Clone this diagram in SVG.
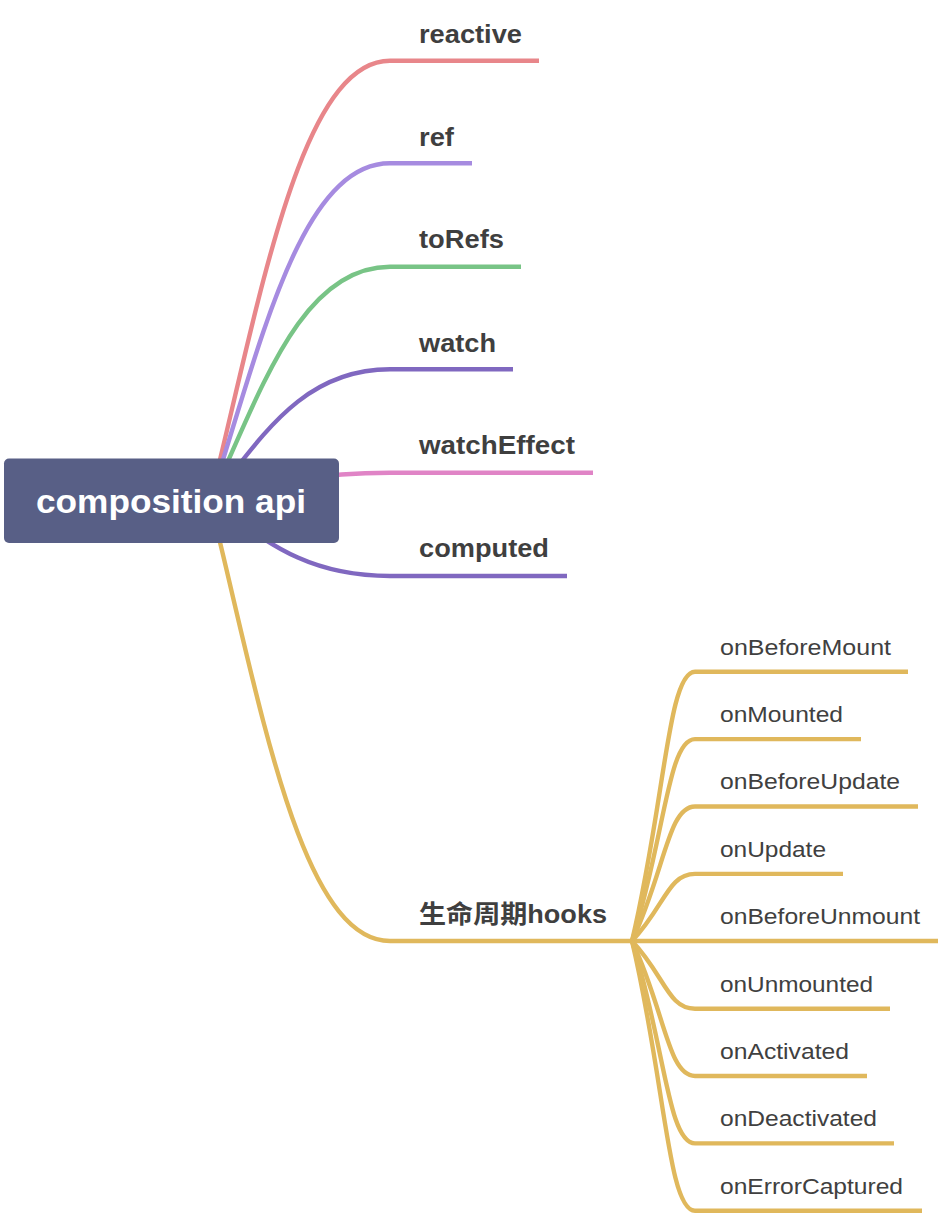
<svg xmlns="http://www.w3.org/2000/svg" width="942" height="1216" viewBox="0 0 942 1216">
<style>
.c{fill:none;stroke-width:4.4;stroke-linecap:butt;stroke-linejoin:round}
.red{stroke:#e8868a}
.lav{stroke:#a68be0}
.grn{stroke:#78c486}
.pur{stroke:#8068c0}
.pnk{stroke:#e084c6}
.gold{stroke:#e0b85c}
.t1{font-family:"Liberation Sans","Noto Sans CJK SC",sans-serif;font-weight:bold;font-size:25px;fill:#3f3f3f}
.t2{font-family:"Liberation Sans","Noto Sans CJK SC",sans-serif;font-size:22px;fill:#404040}
.root{font-family:"Liberation Sans",sans-serif;font-weight:bold;font-size:33px;fill:#ffffff}
</style>
<rect width="942" height="1216" fill="#ffffff"/>
<g id="connectors">
<path class="c red" d="M210 501 C260 300 300 60.7 390 60.7 H539"/>
<path class="c lav" d="M210 501 C260 346.7 300 163.3 390 163.3 H472"/>
<path class="c grn" d="M210 501 C260 393.9 300 266.7 390 266.7 H521"/>
<path class="c pur" d="M210 501 C260 440.8 300 369.3 390 369.3 H513"/>
<path class="c pnk" d="M210 501 C260 488.1 300 472.7 390 472.7 H593"/>
<path class="c pur" d="M210 501 C260 535.3 300 576 390 576 H567"/>
<path class="c gold" d="M210 501 C260 702 300 941 390 941 H632"/>
<path class="c gold" d="M632 941 C665 801 668 671.7 695 671.7 H908"/>
<path class="c gold" d="M632 941 C665 836 668 739.1 695 739.1 H861"/>
<path class="c gold" d="M632 941 C665 871 668 806.5 695 806.5 H918"/>
<path class="c gold" d="M632 941 C665 906.1 668 873.9 695 873.9 H843"/>
<path class="c gold" d="M632 941 H938"/>
<path class="c gold" d="M632 941 C665 976 668 1008.7 695 1008.7 H890"/>
<path class="c gold" d="M632 941 C665 1011.2 668 1076 695 1076 H867"/>
<path class="c gold" d="M632 941 C665 1046.1 668 1143.4 695 1143.4 H894"/>
<path class="c gold" d="M632 941 C665 1081.1 668 1210.8 695 1210.8 H922"/>
</g>
<g id="root">
<rect x="4" y="458.5" width="335" height="84.5" rx="5" fill="#585f86"/>
<text class="root" x="36" y="513" textLength="270" lengthAdjust="spacingAndGlyphs">composition api</text>
</g>
<g id="n-reactive"><text class="t1" x="419" y="43" textLength="103" lengthAdjust="spacingAndGlyphs">reactive</text></g>
<g id="n-ref"><text class="t1" x="419" y="146" textLength="35" lengthAdjust="spacingAndGlyphs">ref</text></g>
<g id="n-toRefs"><text class="t1" x="419" y="248" textLength="85" lengthAdjust="spacingAndGlyphs">toRefs</text></g>
<g id="n-watch"><text class="t1" x="419" y="352" textLength="77" lengthAdjust="spacingAndGlyphs">watch</text></g>
<g id="n-watchEffect"><text class="t1" x="419" y="454" textLength="156" lengthAdjust="spacingAndGlyphs">watchEffect</text></g>
<g id="n-computed"><text class="t1" x="419" y="557" textLength="130" lengthAdjust="spacingAndGlyphs">computed</text></g>
<g id="n-hooks"><text class="t1" x="419" y="923" textLength="188" lengthAdjust="spacingAndGlyphs">生命周期hooks</text></g>
<g id="n-onBeforeMount"><text class="t2" x="720" y="655" textLength="171" lengthAdjust="spacingAndGlyphs">onBeforeMount</text></g>
<g id="n-onMounted"><text class="t2" x="720" y="722" textLength="123" lengthAdjust="spacingAndGlyphs">onMounted</text></g>
<g id="n-onBeforeUpdate"><text class="t2" x="720" y="789" textLength="180" lengthAdjust="spacingAndGlyphs">onBeforeUpdate</text></g>
<g id="n-onUpdate"><text class="t2" x="720" y="857" textLength="106" lengthAdjust="spacingAndGlyphs">onUpdate</text></g>
<g id="n-onBeforeUnmount"><text class="t2" x="720" y="924" textLength="200" lengthAdjust="spacingAndGlyphs">onBeforeUnmount</text></g>
<g id="n-onUnmounted"><text class="t2" x="720" y="992" textLength="153" lengthAdjust="spacingAndGlyphs">onUnmounted</text></g>
<g id="n-onActivated"><text class="t2" x="720" y="1059" textLength="129" lengthAdjust="spacingAndGlyphs">onActivated</text></g>
<g id="n-onDeactivated"><text class="t2" x="720" y="1126" textLength="157" lengthAdjust="spacingAndGlyphs">onDeactivated</text></g>
<g id="n-onErrorCaptured"><text class="t2" x="720" y="1194" textLength="183" lengthAdjust="spacingAndGlyphs">onErrorCaptured</text></g>
</svg>
